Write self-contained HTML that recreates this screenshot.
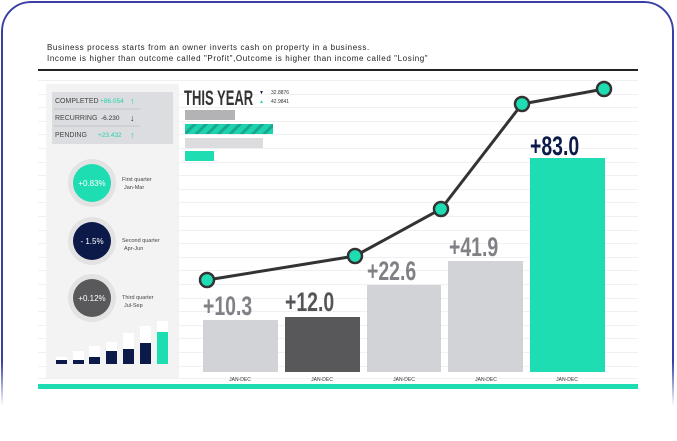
<!DOCTYPE html>
<html><head><meta charset="utf-8"><style>
html,body{margin:0;padding:0;background:#fff;width:677px;height:434px;overflow:hidden}
.card{position:absolute;left:1px;top:1px;width:673px;height:440px;border:2px solid #3a3fa6;border-radius:30px;box-sizing:border-box;-webkit-mask-image:linear-gradient(#000 82%,transparent 92%);mask-image:linear-gradient(#000 82%,transparent 92%)}
svg{position:absolute;left:0;top:0}
text{font-family:"Liberation Sans",sans-serif}
</style></head><body>
<div class="card"></div>
<svg width="677" height="434" viewBox="0 0 677 434">
<defs>
<pattern id="st" width="8" height="8" patternUnits="userSpaceOnUse" patternTransform="rotate(45)">
<rect width="8" height="8" fill="#1fd3ac"/><rect width="3" height="8" fill="#17a894"/></pattern>
</defs>
<text x="47" y="50" font-size="8" fill="#222" letter-spacing="0.6">Business process starts from an owner inverts cash on property in a business.</text>
<text x="47" y="61" font-size="8" fill="#222" letter-spacing="0.6">Income is higher than outcome called "Profit",Outcome is higher than income called "Losing"</text>
<rect x="38" y="69" width="600" height="2" fill="#222"/>
<g stroke="#eef0f2" stroke-width="1">
<line x1="38" y1="80.5" x2="638" y2="80.5"/><line x1="38" y1="94.5" x2="638" y2="94.5"/><line x1="38" y1="107.5" x2="638" y2="107.5"/><line x1="38" y1="121.5" x2="638" y2="121.5"/><line x1="38" y1="134.5" x2="638" y2="134.5"/><line x1="38" y1="148.5" x2="638" y2="148.5"/><line x1="38" y1="162.5" x2="638" y2="162.5"/><line x1="38" y1="175.5" x2="638" y2="175.5"/><line x1="38" y1="189.5" x2="638" y2="189.5"/><line x1="38" y1="202.5" x2="638" y2="202.5"/><line x1="38" y1="216.5" x2="638" y2="216.5"/><line x1="38" y1="230.5" x2="638" y2="230.5"/><line x1="38" y1="243.5" x2="638" y2="243.5"/><line x1="38" y1="257.5" x2="638" y2="257.5"/><line x1="38" y1="270.5" x2="638" y2="270.5"/><line x1="38" y1="284.5" x2="638" y2="284.5"/><line x1="38" y1="298.5" x2="638" y2="298.5"/><line x1="38" y1="311.5" x2="638" y2="311.5"/><line x1="38" y1="325.5" x2="638" y2="325.5"/><line x1="38" y1="338.5" x2="638" y2="338.5"/><line x1="38" y1="352.5" x2="638" y2="352.5"/><line x1="38" y1="366.5" x2="638" y2="366.5"/><line x1="38" y1="378.5" x2="638" y2="378.5"/>
</g>
<rect x="46" y="84" width="133" height="294" fill="#f3f3f4"/>
<rect x="52" y="92" width="121" height="52" fill="#dcdde0"/>
<line x1="54" y1="109" x2="140" y2="109" stroke="#c4c5c8"/><line x1="54" y1="126" x2="140" y2="126" stroke="#c4c5c8"/>
<g font-size="7" fill="#444">
<text x="55" y="103">COMPLETED</text><text x="55" y="120">RECURRING</text><text x="55" y="137">PENDING</text></g>
<text x="100" y="103" font-size="6.5" fill="#1fd3ac">+86.054</text>
<text x="101" y="120" font-size="6.5" fill="#333">-6.230</text>
<text x="98" y="137" font-size="6.5" fill="#1fd3ac">+23.432</text>
<text x="130" y="104" font-size="9" fill="#1fd3ac">↑</text>
<text x="130" y="121" font-size="9" fill="#333">↓</text>
<text x="130" y="138" font-size="9" fill="#1fd3ac">↑</text>
<circle cx="92" cy="183" r="24" fill="#e3e3e4"/><circle cx="92" cy="183" r="19" fill="#1fddb3"/>
<text x="92" y="186" font-size="8" fill="#fff" text-anchor="middle">+0.83%</text>
<circle cx="92" cy="241" r="24" fill="#e3e3e4"/><circle cx="92" cy="241" r="19" fill="#0c1a4a"/>
<text x="92" y="244" font-size="8" fill="#fff" text-anchor="middle">- 1.5%</text>
<circle cx="92" cy="298" r="24" fill="#e3e3e4"/><circle cx="92" cy="298" r="19" fill="#59595b"/>
<text x="92" y="301" font-size="8" fill="#fff" text-anchor="middle">+0.12%</text>
<g font-size="5.5" fill="#444">
<text x="122" y="181">First quarter</text><text x="124" y="189">Jan-Mar</text>
<text x="122" y="242">Second quarter</text><text x="124" y="250">Apr-Jun</text>
<text x="122" y="299">Third quarter</text><text x="124" y="307">Jul-Sep</text></g>
<g fill="#fff">
<rect x="56" y="357" width="11" height="7"/><rect x="73" y="351" width="11" height="13"/><rect x="89" y="346" width="11" height="18"/><rect x="106" y="342" width="11" height="22"/><rect x="123" y="333" width="11" height="31"/><rect x="140" y="326" width="11" height="38"/><rect x="157" y="321" width="11" height="43"/></g>
<g fill="#0c1a4a">
<rect x="56" y="360" width="11" height="4"/><rect x="73" y="360" width="11" height="4"/><rect x="89" y="357" width="11" height="7"/><rect x="106" y="351" width="11" height="13"/><rect x="123" y="349" width="11" height="15"/><rect x="140" y="343" width="11" height="21"/></g>
<rect x="157" y="332" width="11" height="32" fill="#1fddb3"/>
<text x="184" y="105" font-size="21" font-weight="bold" fill="#333" transform="translate(184 0) scale(0.62 1) translate(-184 0)">THIS YEAR</text>
<text x="259" y="94" font-size="5" fill="#0c1a4a">▼</text>
<text x="259" y="103" font-size="5" fill="#1fddb3">▲</text>
<text x="271" y="94" font-size="5" fill="#333">32.8876</text>
<text x="271" y="103" font-size="5" fill="#333">42.9841</text>
<rect x="185" y="110" width="50" height="10" fill="#b3b3b5"/>
<rect x="185" y="124" width="88" height="10" fill="url(#st)"/>
<rect x="185" y="138" width="78" height="10" fill="#dcdcde"/>
<rect x="185" y="151" width="29" height="10" fill="#1fddb3"/>
<rect x="203" y="320" width="75" height="52" fill="#d2d3d6"/>
<rect x="285" y="317" width="75" height="55" fill="#58585a"/>
<rect x="367" y="285" width="74" height="87" fill="#d2d3d6"/>
<rect x="448" y="261" width="75" height="111" fill="#d2d3d6"/>
<rect x="530" y="158" width="75" height="214" fill="#1fddb3"/>
<g font-size="27" font-weight="bold">
<text x="203" y="315" fill="#808086" transform="translate(203 0) scale(0.72 1) translate(-203 0)">+10.3</text>
<text x="285" y="311" fill="#555558" transform="translate(285 0) scale(0.72 1) translate(-285 0)">+12.0</text>
<text x="367" y="280" fill="#808086" transform="translate(367 0) scale(0.72 1) translate(-367 0)">+22.6</text>
<text x="449" y="256" fill="#808086" transform="translate(449 0) scale(0.72 1) translate(-449 0)">+41.9</text>
<text x="530" y="155" fill="#0c1a4a" transform="translate(530 0) scale(0.72 1) translate(-530 0)">+83.0</text></g>
<g font-size="5" fill="#333" text-anchor="middle">
<text x="240" y="381">JAN-DEC</text><text x="322" y="381">JAN-DEC</text><text x="404" y="381">JAN-DEC</text><text x="486" y="381">JAN-DEC</text><text x="567" y="381">JAN-DEC</text></g>
<rect x="38" y="384" width="600" height="5" fill="#1fddb3"/>
<polyline points="207,280 355,256 441,209 522,104 604,89" fill="none" stroke="#333" stroke-width="3"/>
<g fill="#1fddb3" stroke="#333" stroke-width="2.5">
<circle cx="207" cy="280" r="7"/><circle cx="355" cy="256" r="7"/><circle cx="441" cy="209" r="7"/><circle cx="522" cy="104" r="7"/><circle cx="604" cy="89" r="7"/></g>
</svg>
</body></html>
